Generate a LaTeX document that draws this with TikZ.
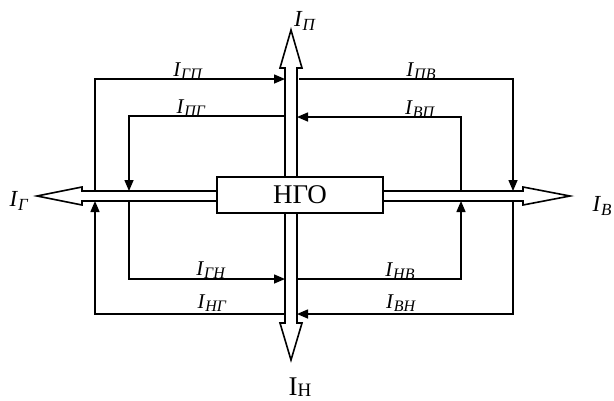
\documentclass[tikz,border=0pt]{standalone}
\usepackage{fontspec}
\setmainfont{Liberation Serif}
\usetikzlibrary{arrows.meta}
\newcommand\Isub[1]{\textit{I}\raisebox{-3pt}{\fontsize{16}{16}\selectfont\textit{#1}}}
\newcommand\Ibig[1]{\textit{I}\raisebox{-4pt}{\fontsize{17}{17}\selectfont\textit{#1}}}
\begin{document}
\begin{tikzpicture}[x=1pt,y=-1pt,
  flow/.style={line width=1.5pt,-{Triangle[length=11pt,width=9pt]}},
  channel/.style={draw,line width=1.6pt,fill=white,line join=miter},
  box/.style={draw,line width=1.6pt,fill=white,minimum width=166pt,minimum height=36pt,inner sep=0pt,font=\fontsize{27}{27}\selectfont},
  lab/.style={font=\fontsize{21}{21}\selectfont,inner sep=0pt,anchor=base},
  biglab/.style={font=\fontsize{23}{23}\selectfont,inner sep=0pt,anchor=base}
]
\useasboundingbox (0,0) rectangle (614,400);
% channels (double arrows)
\path[channel] (285,68) -- (280,68) -- (291,30) -- (302,68) -- (297,68) -- (297,323) -- (302,323) -- (291,360) -- (280,323) -- (285,323) -- cycle;
\path[channel] (82,191) -- (82,187) -- (37,196) -- (82,205) -- (82,201) -- (523,201) -- (523,205) -- (570,196) -- (523,187) -- (523,191) -- cycle;
\node[box] (ngo) at (300,195) {НГО};
% named points on the channel edges
\coordinate (gp0) at (95,191);  \coordinate (gp1) at (285,79);
\coordinate (pg0) at (285,116); \coordinate (pg1) at (129,191);
\coordinate (gn0) at (129,201); \coordinate (gn1) at (285,279);
\coordinate (ng0) at (285,314); \coordinate (ng1) at (95,201);
\coordinate (pv0) at (299,79);  \coordinate (pv1) at (513,191);
\coordinate (vp0) at (461,191); \coordinate (vp1) at (297,117);
\coordinate (nv0) at (297,279); \coordinate (nv1) at (461,201);
\coordinate (vn0) at (513,201); \coordinate (vn1) at (297,314);
% flows
\draw[flow] (gp0) |- (gp1);
\draw[flow] (pg0) -| (pg1);
\draw[flow] (gn0) |- (gn1);
\draw[flow] (ng0) -| (ng1);
\draw[flow] (pv0) -| (pv1);
\draw[flow] (vp0) |- (vp1);
\draw[flow] (nv0) -| (nv1);
\draw[flow] (vn0) |- (vn1);
% flow labels
\node[lab] (lgp) at (188,76)  {\Isub{ГП}};
\node[lab] (lpg) at (191,113) {\Isub{ПГ}};
\node[lab] (lpv) at (421,76)  {\Isub{ПВ}};
\node[lab] (lvp) at (420,114) {\Isub{ВП}};
\node[lab] (lgn) at (211,275) {\Isub{ГН}};
\node[lab] (lng) at (212,308) {\Isub{НГ}};
\node[lab] (lnv) at (400,276) {\Isub{НВ}};
\node[lab] (lvn) at (401,308) {\Isub{ВН}};
% channel labels
\node[biglab] (lP) at (305,26)  {\Ibig{П}};
\node[biglab] (lG) at (19,206)  {\Ibig{Г}};
\node[biglab] (lV) at (602,211) {\Ibig{В}};
\node[font=\fontsize{27}{27}\selectfont,inner sep=0pt,anchor=base] (lN) at (300,395) {I\raisebox{-1pt}{\fontsize{19}{19}\selectfont Н}};
\end{tikzpicture}
\end{document}
